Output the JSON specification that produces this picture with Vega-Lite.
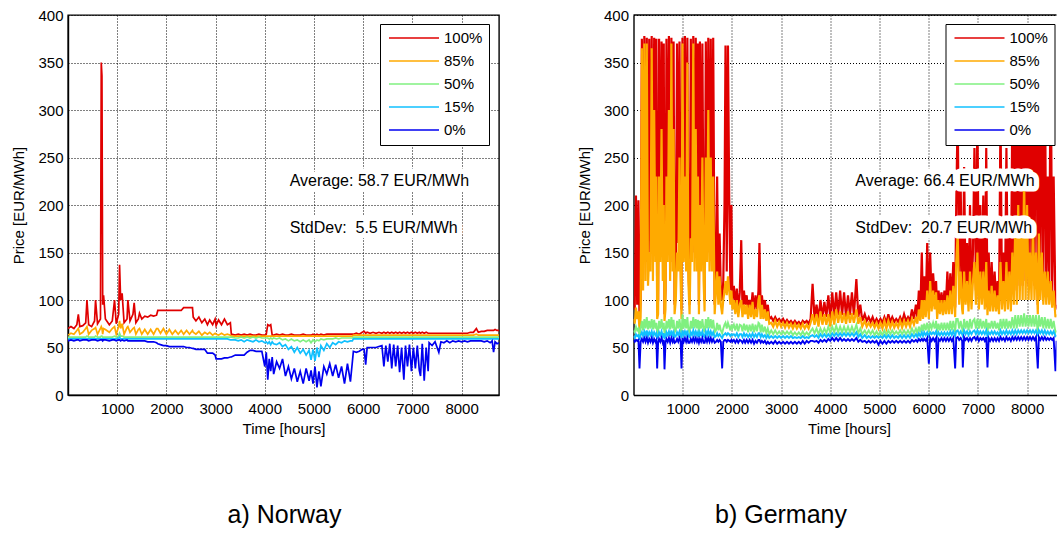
{
"$schema": "https://vega.github.io/schema/vega-lite/v6.json",
"background": "white",
"padding": {"left": 11, "top": 7, "right": 0, "bottom": 0},
"config": {
  "font": "Liberation Sans",
  "view": {"stroke": null},
  "axis": {"labelFont": "Liberation Sans", "labelFontSize": 15, "labelColor": "black", "titleFont": "Liberation Sans", "titleFontSize": 15, "titleFontWeight": "normal", "titleColor": "black", "grid": true, "gridColor": "black", "gridDash": [1, 2], "gridOpacity": 1, "gridWidth": 1, "ticks": false, "domainColor": "black", "domainWidth": 1.4, "format": "d"},
  "axisX": {"labelPadding": 6, "titlePadding": 5, "labelFlush": false},
  "axisY": {"labelPadding": 5, "titlePadding": 11},
  "legend": {"orient": "none", "legendX": 312, "legendY": 9, "padding": 6.5, "strokeColor": "black", "fillColor": "white", "labelFont": "Liberation Sans", "labelFontSize": 15, "labelColor": "black", "rowPadding": 7, "symbolSize": 100, "symbolStrokeWidth": 1.5, "symbolOffset": 20, "labelOffset": 22.5},
  "title": {"font": "Liberation Sans", "fontSize": 25, "fontWeight": "normal", "color": "black"}
},
"bounds": "flush",
"spacing": 134.5,
"resolve": {"scale": {"color": "independent", "x": "independent", "y": "independent"}, "legend": {"color": "independent"}},
"hconcat": [
{
  "width": 431, "height": 380,
  "view": {"stroke": "black", "strokeWidth": 1.4},
  "title": {"text": "a) Norway", "orient": "bottom", "anchor": "middle", "offset": 67, "dx": 1},
  "layer": [
    {"data": {"name": "norway", "values": [
{"h":0,"p100":70,"p85":63,"p50":61,"p15":59,"p0":57},
{"h":60,"p100":72,"p85":65,"p50":61,"p15":59,"p0":58},
{"h":120,"p100":70,"p85":64,"p50":61,"p15":59,"p0":57},
{"h":180,"p100":74,"p85":68,"p50":61,"p15":59,"p0":58},
{"h":210,"p100":85,"p85":70,"p50":61,"p15":59,"p0":58},
{"h":240,"p100":72,"p85":64,"p50":61,"p15":59,"p0":57},
{"h":300,"p100":73,"p85":66,"p50":61,"p15":59,"p0":58},
{"h":360,"p100":76,"p85":70,"p50":61,"p15":59,"p0":58},
{"h":385,"p100":100,"p85":72,"p50":62,"p15":59,"p0":58},
{"h":420,"p100":74,"p85":64,"p50":61,"p15":59,"p0":57},
{"h":480,"p100":72,"p85":68,"p50":61,"p15":59,"p0":58},
{"h":540,"p100":78,"p85":70,"p50":61,"p15":59,"p0":58},
{"h":560,"p100":100,"p85":71,"p50":62,"p15":59,"p0":58},
{"h":600,"p100":75,"p85":64,"p50":61,"p15":59,"p0":57},
{"h":660,"p100":80,"p85":70,"p50":61,"p15":59,"p0":58},
{"h":676,"p100":350,"p85":72,"p50":62,"p15":59,"p0":58},
{"h":690,"p100":336,"p85":70,"p50":62,"p15":59,"p0":58},
{"h":705,"p100":95,"p85":64,"p50":61,"p15":59,"p0":57},
{"h":723,"p100":105,"p85":70,"p50":61,"p15":59,"p0":58},
{"h":760,"p100":80,"p85":69,"p50":61,"p15":59,"p0":58},
{"h":840,"p100":74,"p85":66,"p50":61,"p15":59,"p0":57},
{"h":900,"p100":78,"p85":70,"p50":61,"p15":59,"p0":58},
{"h":946,"p100":100,"p85":72,"p50":62,"p15":59,"p0":58},
{"h":980,"p100":75,"p85":64,"p50":61,"p15":59,"p0":57},
{"h":1030,"p100":85,"p85":72,"p50":62,"p15":60,"p0":58},
{"h":1048,"p100":137,"p85":78,"p50":65,"p15":61,"p0":58},
{"h":1070,"p100":100,"p85":70,"p50":62,"p15":59,"p0":57},
{"h":1100,"p100":107,"p85":75,"p50":62,"p15":59,"p0":58},
{"h":1140,"p100":76,"p85":64,"p50":61,"p15":59,"p0":57},
{"h":1200,"p100":80,"p85":71,"p50":61,"p15":59,"p0":58},
{"h":1217,"p100":100,"p85":72,"p50":61,"p15":59,"p0":57},
{"h":1260,"p100":78,"p85":66,"p50":61,"p15":59,"p0":57},
{"h":1320,"p100":85,"p85":70,"p50":61,"p15":59,"p0":57},
{"h":1345,"p100":97,"p85":71,"p50":61,"p15":59,"p0":57},
{"h":1380,"p100":76,"p85":64,"p50":61,"p15":59,"p0":57},
{"h":1430,"p100":80,"p85":69,"p50":61,"p15":59,"p0":57},
{"h":1453,"p100":86,"p85":70,"p50":61,"p15":59,"p0":57},
{"h":1500,"p100":80,"p85":64,"p50":61,"p15":59,"p0":57},
{"h":1560,"p100":83,"p85":69,"p50":61,"p15":59,"p0":57},
{"h":1620,"p100":82,"p85":64,"p50":61,"p15":59,"p0":56},
{"h":1680,"p100":84,"p85":69,"p50":61,"p15":59,"p0":56},
{"h":1740,"p100":83,"p85":64,"p50":61,"p15":59,"p0":56},
{"h":1800,"p100":84,"p85":70,"p50":61,"p15":59,"p0":55},
{"h":1825,"p100":89,"p85":70,"p50":61,"p15":59,"p0":54},
{"h":1880,"p100":89,"p85":65,"p50":61,"p15":59,"p0":53},
{"h":1940,"p100":89,"p85":70,"p50":61,"p15":59,"p0":52},
{"h":2000,"p100":89,"p85":64,"p50":61,"p15":59,"p0":52},
{"h":2060,"p100":89,"p85":69,"p50":61,"p15":59,"p0":51},
{"h":2120,"p100":89,"p85":64,"p50":61,"p15":59,"p0":51},
{"h":2180,"p100":89,"p85":68,"p50":61,"p15":59,"p0":51},
{"h":2240,"p100":89,"p85":64,"p50":61,"p15":59,"p0":51},
{"h":2300,"p100":89,"p85":68,"p50":61,"p15":59,"p0":51},
{"h":2350,"p100":92,"p85":64,"p50":61,"p15":59,"p0":51},
{"h":2410,"p100":92,"p85":68,"p50":61,"p15":59,"p0":50},
{"h":2470,"p100":92,"p85":64,"p50":61,"p15":59,"p0":50},
{"h":2530,"p100":92,"p85":68,"p50":61,"p15":59,"p0":49},
{"h":2545,"p100":82,"p85":66,"p50":61,"p15":59,"p0":49},
{"h":2600,"p100":78,"p85":64,"p50":61,"p15":59,"p0":48},
{"h":2660,"p100":82,"p85":67,"p50":61,"p15":59,"p0":48},
{"h":2720,"p100":76,"p85":63,"p50":61,"p15":59,"p0":48},
{"h":2780,"p100":80,"p85":66,"p50":61,"p15":59,"p0":48},
{"h":2834,"p100":74,"p85":64,"p50":61,"p15":59,"p0":44},
{"h":2880,"p100":79,"p85":66,"p50":61,"p15":59,"p0":44},
{"h":2940,"p100":74,"p85":63,"p50":61,"p15":59,"p0":44},
{"h":2990,"p100":80,"p85":65,"p50":61,"p15":59,"p0":42},
{"h":3010,"p100":73,"p85":64,"p50":61,"p15":59,"p0":38},
{"h":3060,"p100":79,"p85":63,"p50":61,"p15":59,"p0":38},
{"h":3120,"p100":74,"p85":65,"p50":61,"p15":59,"p0":38},
{"h":3180,"p100":80,"p85":63,"p50":61,"p15":59,"p0":39},
{"h":3240,"p100":74,"p85":64,"p50":61,"p15":59,"p0":39},
{"h":3300,"p100":76,"p85":63,"p50":61,"p15":58,"p0":40},
{"h":3320,"p100":64,"p85":62,"p50":61,"p15":58,"p0":40},
{"h":3400,"p100":63,"p85":62,"p50":60,"p15":58,"p0":42},
{"h":3460,"p100":64,"p85":62,"p50":60,"p15":57,"p0":42},
{"h":3520,"p100":63,"p85":62,"p50":61,"p15":58,"p0":42},
{"h":3580,"p100":64,"p85":62,"p50":60,"p15":56,"p0":42},
{"h":3640,"p100":63,"p85":62,"p50":61,"p15":58,"p0":45},
{"h":3700,"p100":64,"p85":62,"p50":60,"p15":57,"p0":47},
{"h":3760,"p100":63,"p85":62,"p50":61,"p15":56,"p0":47},
{"h":3820,"p100":63,"p85":62,"p50":60,"p15":58,"p0":46},
{"h":3880,"p100":64,"p85":62,"p50":61,"p15":56,"p0":46},
{"h":3940,"p100":63,"p85":62,"p50":60,"p15":57,"p0":46},
{"h":4000,"p100":63,"p85":62,"p50":60,"p15":55,"p0":30},
{"h":4030,"p100":64,"p85":62,"p50":60,"p15":56,"p0":45},
{"h":4060,"p100":74,"p85":62,"p50":60,"p15":54,"p0":16},
{"h":4090,"p100":73,"p85":62,"p50":59,"p15":56,"p0":38},
{"h":4120,"p100":74,"p85":62,"p50":60,"p15":53,"p0":25},
{"h":4150,"p100":63,"p85":62,"p50":59,"p15":56,"p0":40},
{"h":4180,"p100":63,"p85":62,"p50":60,"p15":54,"p0":22},
{"h":4240,"p100":64,"p85":62,"p50":59,"p15":53,"p0":35},
{"h":4300,"p100":63,"p85":62,"p50":60,"p15":55,"p0":28},
{"h":4360,"p100":64,"p85":62,"p50":58,"p15":51,"p0":38},
{"h":4420,"p100":63,"p85":62,"p50":59,"p15":53,"p0":20},
{"h":4480,"p100":63,"p85":62,"p50":57,"p15":48,"p0":30},
{"h":4540,"p100":64,"p85":62,"p50":59,"p15":51,"p0":17},
{"h":4600,"p100":63,"p85":62,"p50":57,"p15":45,"p0":28},
{"h":4660,"p100":63,"p85":62,"p50":58,"p15":50,"p0":14},
{"h":4720,"p100":63,"p85":62,"p50":56,"p15":44,"p0":25},
{"h":4780,"p100":64,"p85":62,"p50":58,"p15":48,"p0":12},
{"h":4840,"p100":63,"p85":62,"p50":56,"p15":42,"p0":28},
{"h":4900,"p100":63,"p85":62,"p50":58,"p15":47,"p0":15},
{"h":4940,"p100":63,"p85":62,"p50":55,"p15":37,"p0":26},
{"h":4980,"p100":64,"p85":62,"p50":58,"p15":48,"p0":12},
{"h":5020,"p100":63,"p85":62,"p50":56,"p15":36,"p0":30},
{"h":5060,"p100":64,"p85":62,"p50":58,"p15":50,"p0":8},
{"h":5100,"p100":63,"p85":62,"p50":57,"p15":40,"p0":25},
{"h":5140,"p100":64,"p85":62,"p50":59,"p15":52,"p0":9},
{"h":5200,"p100":63,"p85":62,"p50":58,"p15":47,"p0":30},
{"h":5260,"p100":64,"p85":62,"p50":59,"p15":54,"p0":22},
{"h":5320,"p100":64,"p85":62,"p50":59,"p15":50,"p0":33},
{"h":5380,"p100":64,"p85":62,"p50":59,"p15":55,"p0":20},
{"h":5440,"p100":64,"p85":62,"p50":60,"p15":53,"p0":32},
{"h":5500,"p100":64,"p85":62,"p50":59,"p15":56,"p0":18},
{"h":5560,"p100":64,"p85":62,"p50":60,"p15":55,"p0":30},
{"h":5620,"p100":64,"p85":62,"p50":60,"p15":57,"p0":12},
{"h":5680,"p100":64,"p85":62,"p50":60,"p15":56,"p0":33},
{"h":5740,"p100":64,"p85":62,"p50":60,"p15":57,"p0":14},
{"h":5780,"p100":64,"p85":62,"p50":60,"p15":57,"p0":35},
{"h":5800,"p100":64,"p85":63,"p50":61,"p15":59,"p0":46},
{"h":5860,"p100":65,"p85":63,"p50":61,"p15":59,"p0":45},
{"h":5920,"p100":64,"p85":63,"p50":61,"p15":59,"p0":46},
{"h":5980,"p100":66,"p85":63,"p50":61,"p15":59,"p0":48},
{"h":6020,"p100":67,"p85":63,"p50":61,"p15":59,"p0":48},
{"h":6050,"p100":65,"p85":63,"p50":61,"p15":59,"p0":32},
{"h":6080,"p100":66,"p85":63,"p50":61,"p15":59,"p0":50},
{"h":6140,"p100":65,"p85":63,"p50":61,"p15":59,"p0":50},
{"h":6200,"p100":66,"p85":63,"p50":61,"p15":59,"p0":50},
{"h":6260,"p100":65,"p85":63,"p50":61,"p15":59,"p0":50},
{"h":6320,"p100":66,"p85":63,"p50":61,"p15":59,"p0":51},
{"h":6380,"p100":65,"p85":63,"p50":61,"p15":59,"p0":52},
{"h":6420,"p100":66,"p85":63,"p50":61,"p15":59,"p0":30},
{"h":6460,"p100":65,"p85":63,"p50":61,"p15":59,"p0":52},
{"h":6500,"p100":66,"p85":63,"p50":61,"p15":59,"p0":35},
{"h":6540,"p100":65,"p85":63,"p50":61,"p15":59,"p0":54},
{"h":6580,"p100":66,"p85":63,"p50":61,"p15":59,"p0":28},
{"h":6620,"p100":65,"p85":63,"p50":61,"p15":59,"p0":53},
{"h":6660,"p100":66,"p85":63,"p50":61,"p15":59,"p0":30},
{"h":6700,"p100":65,"p85":63,"p50":61,"p15":59,"p0":52},
{"h":6740,"p100":66,"p85":63,"p50":61,"p15":59,"p0":24},
{"h":6780,"p100":65,"p85":63,"p50":61,"p15":59,"p0":50},
{"h":6826,"p100":66,"p85":63,"p50":61,"p15":59,"p0":16},
{"h":6860,"p100":65,"p85":63,"p50":61,"p15":59,"p0":52},
{"h":6900,"p100":66,"p85":63,"p50":61,"p15":59,"p0":30},
{"h":6940,"p100":65,"p85":63,"p50":61,"p15":59,"p0":53},
{"h":6980,"p100":66,"p85":63,"p50":61,"p15":59,"p0":25},
{"h":7020,"p100":65,"p85":63,"p50":61,"p15":59,"p0":50},
{"h":7060,"p100":66,"p85":63,"p50":61,"p15":59,"p0":28},
{"h":7100,"p100":65,"p85":63,"p50":61,"p15":59,"p0":52},
{"h":7140,"p100":66,"p85":63,"p50":61,"p15":59,"p0":26},
{"h":7165,"p100":65,"p85":63,"p50":61,"p15":59,"p0":20},
{"h":7200,"p100":66,"p85":63,"p50":61,"p15":59,"p0":54},
{"h":7240,"p100":65,"p85":63,"p50":61,"p15":59,"p0":15},
{"h":7280,"p100":66,"p85":63,"p50":61,"p15":59,"p0":50},
{"h":7320,"p100":65,"p85":63,"p50":61,"p15":59,"p0":25},
{"h":7340,"p100":65,"p85":63,"p50":61,"p15":59,"p0":55},
{"h":7400,"p100":65,"p85":63,"p50":61,"p15":59,"p0":52},
{"h":7460,"p100":65,"p85":63,"p50":61,"p15":59,"p0":56},
{"h":7537,"p100":65,"p85":63,"p50":61,"p15":59,"p0":45},
{"h":7580,"p100":65,"p85":63,"p50":61,"p15":59,"p0":56},
{"h":7640,"p100":65,"p85":63,"p50":61,"p15":59,"p0":55},
{"h":7700,"p100":65,"p85":63,"p50":61,"p15":59,"p0":57},
{"h":7760,"p100":65,"p85":63,"p50":61,"p15":59,"p0":55},
{"h":7820,"p100":65,"p85":63,"p50":61,"p15":59,"p0":57},
{"h":7880,"p100":65,"p85":63,"p50":61,"p15":59,"p0":56},
{"h":7940,"p100":65,"p85":63,"p50":61,"p15":59,"p0":57},
{"h":8000,"p100":65,"p85":63,"p50":61,"p15":59,"p0":56},
{"h":8060,"p100":65,"p85":63,"p50":61,"p15":59,"p0":57},
{"h":8120,"p100":65,"p85":63,"p50":61,"p15":59,"p0":56},
{"h":8180,"p100":66,"p85":63,"p50":61,"p15":59,"p0":57},
{"h":8240,"p100":66,"p85":63,"p50":61,"p15":59,"p0":57},
{"h":8300,"p100":70,"p85":64,"p50":61,"p15":59,"p0":57},
{"h":8340,"p100":66,"p85":63,"p50":61,"p15":59,"p0":57},
{"h":8400,"p100":67,"p85":63,"p50":61,"p15":59,"p0":57},
{"h":8460,"p100":67,"p85":63,"p50":61,"p15":59,"p0":56},
{"h":8520,"p100":68,"p85":63,"p50":61,"p15":59,"p0":57},
{"h":8580,"p100":68,"p85":63,"p50":61,"p15":59,"p0":55},
{"h":8620,"p100":68,"p85":63,"p50":61,"p15":59,"p0":57},
{"h":8650,"p100":68,"p85":63,"p50":61,"p15":59,"p0":45},
{"h":8680,"p100":69,"p85":63,"p50":61,"p15":59,"p0":56},
{"h":8720,"p100":68,"p85":63,"p50":61,"p15":59,"p0":54},
{"h":8760,"p100":68,"p85":63,"p50":61,"p15":59,"p0":55}
    ]},
     "mark": {"type": "line", "strokeWidth": 1.7, "clip": true}, "encoding": {"x": {"field": "h", "type": "quantitative", "scale": {"domain": [0, 8760], "nice": false, "zero": false}, "axis": {"title": "Time [hours]", "values": [1000,2000,3000,4000,5000,6000,7000,8000]}}, "y": {"field": "p100", "type": "quantitative", "scale": {"domain": [0, 400], "nice": false}, "axis": {"title": "Price [EUR/MWh]", "values": [0,50,100,150,200,250,300,350,400]}}, "color": {"datum": "100%", "type": "nominal", "scale": {"domain": ["100%","85%","50%","15%","0%"], "range": ["#e00000","#ffaa00","#80f080","#10c0ff","#0000f0"]}, "legend": {"title": null, "symbolType": "M-5,0H5"}}}},
    {"data": {"name": "norway"}, "mark": {"type": "line", "strokeWidth": 1.7, "clip": true}, "encoding": {"x": {"field": "h", "type": "quantitative", "title": "Time [hours]"}, "y": {"field": "p85", "type": "quantitative", "title": "Price [EUR/MWh]"}, "color": {"datum": "85%", "type": "nominal"}}},
    {"data": {"name": "norway"}, "mark": {"type": "line", "strokeWidth": 1.7, "clip": true}, "encoding": {"x": {"field": "h", "type": "quantitative", "title": "Time [hours]"}, "y": {"field": "p50", "type": "quantitative", "title": "Price [EUR/MWh]"}, "color": {"datum": "50%", "type": "nominal"}}},
    {"data": {"name": "norway"}, "mark": {"type": "line", "strokeWidth": 1.7, "clip": true}, "encoding": {"x": {"field": "h", "type": "quantitative", "title": "Time [hours]"}, "y": {"field": "p15", "type": "quantitative", "title": "Price [EUR/MWh]"}, "color": {"datum": "15%", "type": "nominal"}}},
    {"data": {"name": "norway"}, "mark": {"type": "line", "strokeWidth": 1.7, "clip": true}, "encoding": {"x": {"field": "h", "type": "quantitative", "title": "Time [hours]"}, "y": {"field": "p0", "type": "quantitative", "title": "Price [EUR/MWh]"}, "color": {"datum": "0%", "type": "nominal"}}},
    {"data": {"values": [{"label": "Average: 58.7 EUR/MWh"}]}, "mark": {"type": "text", "align": "left", "baseline": "middle", "fontSize": 16, "font": "Liberation Sans", "fill": "white", "stroke": "white", "strokeWidth": 11, "strokeJoin": "round"}, "encoding": {"x": {"datum": 4506}, "y": {"datum": 225}, "text": {"field": "label", "type": "nominal"}}},
    {"data": {"values": [{"label": "StdDev:\u00a0 5.5 EUR/MWh"}]}, "mark": {"type": "text", "align": "left", "baseline": "middle", "fontSize": 16, "font": "Liberation Sans", "fill": "white", "stroke": "white", "strokeWidth": 11, "strokeJoin": "round"}, "encoding": {"x": {"datum": 4506}, "y": {"datum": 176}, "text": {"field": "label", "type": "nominal"}}},
    {"data": {"values": [{"label": "Average: 58.7 EUR/MWh"}]}, "mark": {"type": "text", "align": "left", "baseline": "middle", "fontSize": 16, "font": "Liberation Sans", "fill": "black"}, "encoding": {"x": {"datum": 4506}, "y": {"datum": 225}, "text": {"field": "label", "type": "nominal"}}},
    {"data": {"values": [{"label": "StdDev:\u00a0 5.5 EUR/MWh"}]}, "mark": {"type": "text", "align": "left", "baseline": "middle", "fontSize": 16, "font": "Liberation Sans", "fill": "black"}, "encoding": {"x": {"datum": 4506}, "y": {"datum": 176}, "text": {"field": "label", "type": "nominal"}}}
  ]
},
{
  "width": 423, "height": 380,
  "title": {"text": "b) Germany", "orient": "bottom", "anchor": "middle", "offset": 67, "dx": -64},
  "layer": [
    {"data": {"name": "germany", "values": [
{"h":0,"p100":100,"p85":80,"p50":68,"p15":62,"p0":58},
{"h":25,"p100":90,"p85":75,"p50":66,"p15":60,"p0":56},
{"h":50,"p100":210,"p85":92,"p50":72,"p15":64,"p0":58},
{"h":75,"p100":95,"p85":80,"p50":68,"p15":62,"p0":57},
{"h":100,"p100":205,"p85":88,"p50":70,"p15":63,"p0":58},
{"h":122,"p100":75,"p85":68,"p50":62,"p15":58,"p0":28},
{"h":145,"p100":100,"p85":82,"p50":70,"p15":63,"p0":56},
{"h":170,"p100":375,"p85":365,"p50":78,"p15":66,"p0":59},
{"h":195,"p100":120,"p85":110,"p50":68,"p15":62,"p0":56},
{"h":220,"p100":378,"p85":370,"p50":80,"p15":67,"p0":60},
{"h":245,"p100":140,"p85":120,"p50":70,"p15":63,"p0":56},
{"h":270,"p100":376,"p85":370,"p50":82,"p15":68,"p0":60},
{"h":295,"p100":130,"p85":115,"p50":69,"p15":62,"p0":55},
{"h":320,"p100":375,"p85":150,"p50":78,"p15":66,"p0":59},
{"h":345,"p100":150,"p85":130,"p50":70,"p15":63,"p0":56},
{"h":370,"p100":378,"p85":365,"p50":80,"p15":67,"p0":60},
{"h":395,"p100":140,"p85":120,"p50":69,"p15":62,"p0":55},
{"h":420,"p100":376,"p85":300,"p50":79,"p15":66,"p0":59},
{"h":445,"p100":160,"p85":140,"p50":70,"p15":63,"p0":56},
{"h":465,"p100":375,"p85":230,"p50":76,"p15":65,"p0":58},
{"h":481,"p100":90,"p85":80,"p50":65,"p15":60,"p0":28},
{"h":500,"p100":100,"p85":85,"p50":66,"p15":61,"p0":55},
{"h":520,"p100":375,"p85":230,"p50":78,"p15":66,"p0":59},
{"h":545,"p100":160,"p85":140,"p50":70,"p15":63,"p0":56},
{"h":570,"p100":372,"p85":280,"p50":80,"p15":67,"p0":60},
{"h":595,"p100":150,"p85":120,"p50":69,"p15":62,"p0":55},
{"h":615,"p100":370,"p85":200,"p50":76,"p15":65,"p0":58},
{"h":630,"p100":85,"p85":78,"p50":64,"p15":60,"p0":27},
{"h":650,"p100":110,"p85":90,"p50":66,"p15":61,"p0":55},
{"h":670,"p100":375,"p85":230,"p50":78,"p15":66,"p0":59},
{"h":695,"p100":160,"p85":140,"p50":70,"p15":63,"p0":56},
{"h":720,"p100":378,"p85":300,"p50":80,"p15":67,"p0":60},
{"h":745,"p100":150,"p85":120,"p50":69,"p15":62,"p0":55},
{"h":770,"p100":376,"p85":370,"p50":82,"p15":68,"p0":60},
{"h":795,"p100":140,"p85":130,"p50":70,"p15":63,"p0":56},
{"h":815,"p100":372,"p85":280,"p50":79,"p15":66,"p0":59},
{"h":835,"p100":95,"p85":85,"p50":66,"p15":61,"p0":55},
{"h":860,"p100":120,"p85":100,"p50":68,"p15":62,"p0":56},
{"h":885,"p100":370,"p85":150,"p50":78,"p15":66,"p0":59},
{"h":910,"p100":160,"p85":130,"p50":70,"p15":63,"p0":56},
{"h":935,"p100":372,"p85":250,"p50":80,"p15":67,"p0":60},
{"h":958,"p100":150,"p85":120,"p50":70,"p15":63,"p0":56},
{"h":976,"p100":90,"p85":80,"p50":64,"p15":60,"p0":28},
{"h":995,"p100":376,"p85":370,"p50":85,"p15":68,"p0":60},
{"h":1020,"p100":150,"p85":140,"p50":70,"p15":63,"p0":56},
{"h":1045,"p100":378,"p85":230,"p50":80,"p15":67,"p0":60},
{"h":1070,"p100":160,"p85":130,"p50":70,"p15":63,"p0":56},
{"h":1095,"p100":376,"p85":350,"p50":82,"p15":68,"p0":60},
{"h":1115,"p100":140,"p85":120,"p50":69,"p15":62,"p0":55},
{"h":1140,"p100":95,"p85":85,"p50":66,"p15":61,"p0":55},
{"h":1165,"p100":375,"p85":165,"p50":78,"p15":66,"p0":59},
{"h":1190,"p100":160,"p85":140,"p50":70,"p15":63,"p0":56},
{"h":1215,"p100":378,"p85":370,"p50":82,"p15":68,"p0":60},
{"h":1240,"p100":150,"p85":130,"p50":70,"p15":63,"p0":56},
{"h":1265,"p100":376,"p85":280,"p50":80,"p15":67,"p0":60},
{"h":1290,"p100":160,"p85":130,"p50":70,"p15":63,"p0":56},
{"h":1310,"p100":370,"p85":230,"p50":79,"p15":66,"p0":59},
{"h":1330,"p100":95,"p85":85,"p50":66,"p15":61,"p0":55},
{"h":1350,"p100":372,"p85":200,"p50":78,"p15":66,"p0":59},
{"h":1375,"p100":150,"p85":130,"p50":70,"p15":63,"p0":56},
{"h":1400,"p100":370,"p85":250,"p50":80,"p15":67,"p0":60},
{"h":1425,"p100":150,"p85":120,"p50":69,"p15":62,"p0":55},
{"h":1445,"p100":100,"p85":88,"p50":66,"p15":61,"p0":55},
{"h":1470,"p100":372,"p85":250,"p50":80,"p15":67,"p0":60},
{"h":1495,"p100":160,"p85":140,"p50":70,"p15":63,"p0":56},
{"h":1520,"p100":376,"p85":300,"p50":82,"p15":68,"p0":60},
{"h":1545,"p100":150,"p85":130,"p50":70,"p15":63,"p0":56},
{"h":1570,"p100":375,"p85":250,"p50":80,"p15":67,"p0":60},
{"h":1595,"p100":160,"p85":130,"p50":70,"p15":63,"p0":56},
{"h":1620,"p100":376,"p85":230,"p50":79,"p15":66,"p0":59},
{"h":1650,"p100":95,"p85":85,"p50":66,"p15":61,"p0":55},
{"h":1675,"p100":120,"p85":110,"p50":68,"p15":62,"p0":56},
{"h":1700,"p100":230,"p85":130,"p50":76,"p15":65,"p0":58},
{"h":1725,"p100":110,"p85":95,"p50":68,"p15":62,"p0":56},
{"h":1750,"p100":170,"p85":125,"p50":74,"p15":64,"p0":58},
{"h":1775,"p100":110,"p85":95,"p50":68,"p15":62,"p0":56},
{"h":1802,"p100":100,"p85":85,"p50":65,"p15":60,"p0":28},
{"h":1825,"p100":120,"p85":100,"p50":70,"p15":63,"p0":56},
{"h":1850,"p100":200,"p85":110,"p50":74,"p15":64,"p0":58},
{"h":1870,"p100":368,"p85":120,"p50":76,"p15":65,"p0":58},
{"h":1895,"p100":130,"p85":105,"p50":70,"p15":63,"p0":56},
{"h":1920,"p100":368,"p85":125,"p50":76,"p15":65,"p0":58},
{"h":1945,"p100":210,"p85":110,"p50":72,"p15":64,"p0":57},
{"h":1970,"p100":110,"p85":95,"p50":68,"p15":62,"p0":56},
{"h":1990,"p100":200,"p85":110,"p50":74,"p15":64,"p0":58},
{"h":2010,"p100":100,"p85":90,"p50":70,"p15":63,"p0":56},
{"h":2040,"p100":115,"p85":100,"p50":74,"p15":64,"p0":58},
{"h":2070,"p100":95,"p85":85,"p50":68,"p15":62,"p0":55},
{"h":2100,"p100":112,"p85":100,"p50":75,"p15":65,"p0":58},
{"h":2130,"p100":90,"p85":82,"p50":67,"p15":61,"p0":55},
{"h":2160,"p100":108,"p85":95,"p50":74,"p15":64,"p0":58},
{"h":2190,"p100":163,"p85":100,"p50":73,"p15":64,"p0":57},
{"h":2215,"p100":90,"p85":82,"p50":67,"p15":61,"p0":55},
{"h":2245,"p100":110,"p85":95,"p50":75,"p15":65,"p0":58},
{"h":2270,"p100":95,"p85":85,"p50":68,"p15":62,"p0":55},
{"h":2300,"p100":105,"p85":95,"p50":74,"p15":64,"p0":58},
{"h":2330,"p100":88,"p85":80,"p50":66,"p15":61,"p0":55},
{"h":2360,"p100":100,"p85":95,"p50":74,"p15":64,"p0":58},
{"h":2390,"p100":90,"p85":82,"p50":67,"p15":61,"p0":55},
{"h":2420,"p100":108,"p85":98,"p50":75,"p15":65,"p0":58},
{"h":2450,"p100":88,"p85":80,"p50":66,"p15":61,"p0":54},
{"h":2480,"p100":105,"p85":90,"p50":74,"p15":64,"p0":57},
{"h":2510,"p100":90,"p85":82,"p50":67,"p15":61,"p0":55},
{"h":2540,"p100":110,"p85":100,"p50":76,"p15":65,"p0":58},
{"h":2560,"p100":160,"p85":105,"p50":75,"p15":65,"p0":58},
{"h":2585,"p100":90,"p85":80,"p50":66,"p15":61,"p0":55},
{"h":2610,"p100":105,"p85":95,"p50":74,"p15":64,"p0":57},
{"h":2640,"p100":88,"p85":80,"p50":66,"p15":61,"p0":55},
{"h":2670,"p100":100,"p85":90,"p50":72,"p15":63,"p0":57},
{"h":2700,"p100":85,"p85":78,"p50":65,"p15":60,"p0":54},
{"h":2730,"p100":95,"p85":88,"p50":70,"p15":63,"p0":56},
{"h":2760,"p100":80,"p85":75,"p50":64,"p15":60,"p0":54},
{"h":2800,"p100":82,"p85":76,"p50":68,"p15":62,"p0":56},
{"h":2840,"p100":78,"p85":72,"p50":64,"p15":60,"p0":54},
{"h":2880,"p100":82,"p85":78,"p50":68,"p15":62,"p0":57},
{"h":2920,"p100":78,"p85":72,"p50":64,"p15":60,"p0":54},
{"h":2960,"p100":80,"p85":77,"p50":67,"p15":62,"p0":56},
{"h":3000,"p100":77,"p85":72,"p50":64,"p15":60,"p0":54},
{"h":3040,"p100":80,"p85":76,"p50":67,"p15":62,"p0":56},
{"h":3080,"p100":76,"p85":71,"p50":64,"p15":60,"p0":54},
{"h":3120,"p100":79,"p85":76,"p50":67,"p15":62,"p0":56},
{"h":3160,"p100":76,"p85":71,"p50":64,"p15":60,"p0":54},
{"h":3200,"p100":78,"p85":75,"p50":67,"p15":62,"p0":56},
{"h":3240,"p100":75,"p85":70,"p50":63,"p15":60,"p0":54},
{"h":3280,"p100":78,"p85":75,"p50":66,"p15":61,"p0":56},
{"h":3320,"p100":75,"p85":70,"p50":63,"p15":60,"p0":54},
{"h":3360,"p100":77,"p85":74,"p50":66,"p15":61,"p0":56},
{"h":3400,"p100":74,"p85":70,"p50":63,"p15":60,"p0":54},
{"h":3440,"p100":78,"p85":75,"p50":67,"p15":62,"p0":57},
{"h":3480,"p100":76,"p85":70,"p50":63,"p15":60,"p0":54},
{"h":3520,"p100":78,"p85":74,"p50":66,"p15":61,"p0":57},
{"h":3560,"p100":75,"p85":70,"p50":63,"p15":60,"p0":55},
{"h":3600,"p100":80,"p85":76,"p50":67,"p15":62,"p0":57},
{"h":3640,"p100":117,"p85":85,"p50":70,"p15":63,"p0":57},
{"h":3680,"p100":80,"p85":74,"p50":65,"p15":61,"p0":56},
{"h":3720,"p100":95,"p85":85,"p50":70,"p15":63,"p0":57},
{"h":3760,"p100":80,"p85":72,"p50":64,"p15":60,"p0":55},
{"h":3800,"p100":100,"p85":88,"p50":70,"p15":64,"p0":58},
{"h":3840,"p100":82,"p85":74,"p50":65,"p15":61,"p0":56},
{"h":3880,"p100":98,"p85":85,"p50":70,"p15":64,"p0":58},
{"h":3920,"p100":82,"p85":74,"p50":65,"p15":61,"p0":56},
{"h":3960,"p100":105,"p85":85,"p50":72,"p15":64,"p0":59},
{"h":4000,"p100":80,"p85":72,"p50":65,"p15":61,"p0":57},
{"h":4040,"p100":108,"p85":88,"p50":72,"p15":65,"p0":60},
{"h":4080,"p100":82,"p85":74,"p50":66,"p15":62,"p0":57},
{"h":4120,"p100":108,"p85":90,"p50":73,"p15":65,"p0":60},
{"h":4160,"p100":84,"p85":76,"p50":66,"p15":62,"p0":57},
{"h":4200,"p100":110,"p85":88,"p50":72,"p15":65,"p0":60},
{"h":4240,"p100":84,"p85":76,"p50":66,"p15":62,"p0":57},
{"h":4280,"p100":108,"p85":86,"p50":72,"p15":65,"p0":59},
{"h":4320,"p100":82,"p85":75,"p50":66,"p15":62,"p0":57},
{"h":4360,"p100":105,"p85":88,"p50":72,"p15":65,"p0":59},
{"h":4400,"p100":84,"p85":76,"p50":66,"p15":62,"p0":57},
{"h":4440,"p100":108,"p85":86,"p50":72,"p15":65,"p0":59},
{"h":4480,"p100":84,"p85":76,"p50":66,"p15":62,"p0":57},
{"h":4530,"p100":122,"p85":90,"p50":74,"p15":66,"p0":60},
{"h":4570,"p100":82,"p85":75,"p50":65,"p15":61,"p0":56},
{"h":4610,"p100":95,"p85":82,"p50":70,"p15":64,"p0":58},
{"h":4650,"p100":78,"p85":72,"p50":64,"p15":60,"p0":56},
{"h":4700,"p100":85,"p85":78,"p50":68,"p15":63,"p0":57},
{"h":4740,"p100":78,"p85":72,"p50":64,"p15":60,"p0":55},
{"h":4780,"p100":82,"p85":76,"p50":68,"p15":62,"p0":57},
{"h":4820,"p100":77,"p85":72,"p50":64,"p15":60,"p0":55},
{"h":4860,"p100":82,"p85":76,"p50":68,"p15":62,"p0":57},
{"h":4900,"p100":76,"p85":71,"p50":63,"p15":60,"p0":55},
{"h":4940,"p100":80,"p85":76,"p50":67,"p15":62,"p0":57},
{"h":4980,"p100":76,"p85":70,"p50":63,"p15":60,"p0":53},
{"h":5020,"p100":80,"p85":76,"p50":67,"p15":62,"p0":57},
{"h":5060,"p100":76,"p85":70,"p50":63,"p15":60,"p0":54},
{"h":5100,"p100":82,"p85":78,"p50":68,"p15":63,"p0":57},
{"h":5140,"p100":76,"p85":70,"p50":63,"p15":60,"p0":54},
{"h":5180,"p100":85,"p85":78,"p50":68,"p15":63,"p0":57},
{"h":5220,"p100":77,"p85":71,"p50":64,"p15":60,"p0":55},
{"h":5260,"p100":82,"p85":77,"p50":68,"p15":63,"p0":57},
{"h":5300,"p100":77,"p85":71,"p50":64,"p15":60,"p0":55},
{"h":5340,"p100":80,"p85":76,"p50":67,"p15":62,"p0":57},
{"h":5380,"p100":77,"p85":71,"p50":64,"p15":60,"p0":55},
{"h":5420,"p100":82,"p85":78,"p50":68,"p15":63,"p0":57},
{"h":5460,"p100":77,"p85":71,"p50":64,"p15":60,"p0":55},
{"h":5500,"p100":85,"p85":78,"p50":68,"p15":63,"p0":57},
{"h":5540,"p100":78,"p85":72,"p50":64,"p15":60,"p0":55},
{"h":5580,"p100":82,"p85":78,"p50":68,"p15":63,"p0":57},
{"h":5620,"p100":78,"p85":72,"p50":64,"p15":60,"p0":55},
{"h":5660,"p100":90,"p85":80,"p50":70,"p15":64,"p0":58},
{"h":5700,"p100":80,"p85":74,"p50":65,"p15":61,"p0":56},
{"h":5740,"p100":95,"p85":82,"p50":70,"p15":64,"p0":58},
{"h":5770,"p100":82,"p85":75,"p50":65,"p15":61,"p0":56},
{"h":5800,"p100":110,"p85":90,"p50":72,"p15":65,"p0":59},
{"h":5830,"p100":85,"p85":78,"p50":66,"p15":62,"p0":57},
{"h":5860,"p100":150,"p85":100,"p50":74,"p15":66,"p0":59},
{"h":5885,"p100":90,"p85":80,"p50":67,"p15":62,"p0":57},
{"h":5910,"p100":125,"p85":100,"p50":75,"p15":66,"p0":59},
{"h":5940,"p100":92,"p85":82,"p50":68,"p15":63,"p0":57},
{"h":5970,"p100":160,"p85":110,"p50":76,"p15":66,"p0":60},
{"h":6003,"p100":90,"p85":80,"p50":66,"p15":62,"p0":33},
{"h":6030,"p100":150,"p85":120,"p50":76,"p15":66,"p0":60},
{"h":6060,"p100":100,"p85":88,"p50":70,"p15":64,"p0":57},
{"h":6090,"p100":128,"p85":110,"p50":76,"p15":66,"p0":60},
{"h":6120,"p100":105,"p85":90,"p50":70,"p15":64,"p0":57},
{"h":6150,"p100":120,"p85":108,"p50":78,"p15":67,"p0":60},
{"h":6172,"p100":90,"p85":80,"p50":66,"p15":62,"p0":28},
{"h":6200,"p100":110,"p85":100,"p50":75,"p15":66,"p0":59},
{"h":6230,"p100":95,"p85":85,"p50":68,"p15":63,"p0":57},
{"h":6260,"p100":108,"p85":100,"p50":76,"p15":66,"p0":60},
{"h":6290,"p100":92,"p85":84,"p50":68,"p15":63,"p0":57},
{"h":6320,"p100":110,"p85":100,"p50":76,"p15":66,"p0":60},
{"h":6350,"p100":95,"p85":85,"p50":68,"p15":63,"p0":57},
{"h":6380,"p100":130,"p85":105,"p50":76,"p15":66,"p0":60},
{"h":6410,"p100":95,"p85":85,"p50":68,"p15":63,"p0":57},
{"h":6440,"p100":128,"p85":110,"p50":78,"p15":67,"p0":60},
{"h":6470,"p100":95,"p85":85,"p50":68,"p15":63,"p0":57},
{"h":6500,"p100":140,"p85":115,"p50":78,"p15":67,"p0":60},
{"h":6538,"p100":92,"p85":82,"p50":66,"p15":62,"p0":28},
{"h":6560,"p100":200,"p85":140,"p50":80,"p15":67,"p0":60},
{"h":6590,"p100":300,"p85":170,"p50":80,"p15":68,"p0":61},
{"h":6620,"p100":110,"p85":95,"p50":70,"p15":64,"p0":58},
{"h":6650,"p100":220,"p85":130,"p50":78,"p15":67,"p0":60},
{"h":6680,"p100":105,"p85":90,"p50":70,"p15":64,"p0":57},
{"h":6694,"p100":95,"p85":85,"p50":66,"p15":62,"p0":29},
{"h":6720,"p100":240,"p85":130,"p50":80,"p15":68,"p0":61},
{"h":6750,"p100":110,"p85":95,"p50":70,"p15":64,"p0":58},
{"h":6780,"p100":160,"p85":120,"p50":78,"p15":67,"p0":60},
{"h":6810,"p100":100,"p85":88,"p50":68,"p15":63,"p0":57},
{"h":6840,"p100":200,"p85":130,"p50":80,"p15":67,"p0":60},
{"h":6870,"p100":105,"p85":90,"p50":70,"p15":64,"p0":57},
{"h":6900,"p100":150,"p85":120,"p50":78,"p15":67,"p0":60},
{"h":6930,"p100":260,"p85":140,"p50":80,"p15":68,"p0":61},
{"h":6960,"p100":110,"p85":95,"p50":70,"p15":64,"p0":58},
{"h":6990,"p100":300,"p85":150,"p50":80,"p15":68,"p0":61},
{"h":7020,"p100":100,"p85":90,"p50":70,"p15":64,"p0":57},
{"h":7050,"p100":200,"p85":130,"p50":80,"p15":67,"p0":60},
{"h":7080,"p100":110,"p85":95,"p50":70,"p15":64,"p0":58},
{"h":7110,"p100":210,"p85":130,"p50":78,"p15":67,"p0":60},
{"h":7140,"p100":105,"p85":90,"p50":70,"p15":64,"p0":57},
{"h":7170,"p100":260,"p85":140,"p50":80,"p15":68,"p0":61},
{"h":7195,"p100":92,"p85":84,"p50":66,"p15":62,"p0":29},
{"h":7220,"p100":150,"p85":110,"p50":76,"p15":66,"p0":60},
{"h":7250,"p100":100,"p85":88,"p50":70,"p15":64,"p0":57},
{"h":7280,"p100":140,"p85":115,"p50":78,"p15":67,"p0":60},
{"h":7310,"p100":100,"p85":88,"p50":70,"p15":64,"p0":57},
{"h":7340,"p100":130,"p85":110,"p50":78,"p15":67,"p0":60},
{"h":7370,"p100":100,"p85":88,"p50":70,"p15":64,"p0":57},
{"h":7400,"p100":120,"p85":105,"p50":76,"p15":66,"p0":60},
{"h":7430,"p100":95,"p85":85,"p50":68,"p15":63,"p0":57},
{"h":7460,"p100":300,"p85":140,"p50":80,"p15":68,"p0":61},
{"h":7490,"p100":100,"p85":90,"p50":70,"p15":64,"p0":58},
{"h":7520,"p100":150,"p85":120,"p50":80,"p15":67,"p0":60},
{"h":7550,"p100":100,"p85":88,"p50":70,"p15":64,"p0":57},
{"h":7580,"p100":260,"p85":140,"p50":80,"p15":68,"p0":61},
{"h":7610,"p100":105,"p85":90,"p50":70,"p15":64,"p0":58},
{"h":7640,"p100":180,"p85":130,"p50":78,"p15":67,"p0":60},
{"h":7670,"p100":100,"p85":88,"p50":70,"p15":64,"p0":57},
{"h":7700,"p100":300,"p85":150,"p50":82,"p15":68,"p0":61},
{"h":7730,"p100":110,"p85":95,"p50":70,"p15":64,"p0":58},
{"h":7760,"p100":375,"p85":180,"p50":84,"p15":68,"p0":61},
{"h":7790,"p100":110,"p85":95,"p50":70,"p15":64,"p0":58},
{"h":7820,"p100":375,"p85":200,"p50":84,"p15":68,"p0":61},
{"h":7850,"p100":115,"p85":100,"p50":72,"p15":65,"p0":58},
{"h":7880,"p100":375,"p85":180,"p50":84,"p15":68,"p0":61},
{"h":7910,"p100":115,"p85":100,"p50":72,"p15":65,"p0":58},
{"h":7940,"p100":375,"p85":230,"p50":86,"p15":68,"p0":61},
{"h":7970,"p100":120,"p85":100,"p50":72,"p15":65,"p0":58},
{"h":8000,"p100":375,"p85":200,"p50":84,"p15":68,"p0":61},
{"h":8030,"p100":115,"p85":100,"p50":72,"p15":65,"p0":58},
{"h":8060,"p100":375,"p85":150,"p50":84,"p15":68,"p0":61},
{"h":8090,"p100":120,"p85":100,"p50":72,"p15":65,"p0":58},
{"h":8120,"p100":375,"p85":180,"p50":84,"p15":68,"p0":61},
{"h":8150,"p100":115,"p85":100,"p50":72,"p15":65,"p0":58},
{"h":8180,"p100":375,"p85":150,"p50":84,"p15":68,"p0":61},
{"h":8218,"p100":95,"p85":85,"p50":66,"p15":62,"p0":28},
{"h":8240,"p100":375,"p85":170,"p50":84,"p15":68,"p0":61},
{"h":8270,"p100":115,"p85":100,"p50":72,"p15":65,"p0":58},
{"h":8300,"p100":375,"p85":150,"p50":82,"p15":68,"p0":61},
{"h":8330,"p100":110,"p85":95,"p50":70,"p15":64,"p0":58},
{"h":8360,"p100":375,"p85":130,"p50":82,"p15":68,"p0":61},
{"h":8390,"p100":110,"p85":95,"p50":70,"p15":64,"p0":58},
{"h":8420,"p100":230,"p85":130,"p50":80,"p15":67,"p0":60},
{"h":8450,"p100":110,"p85":95,"p50":70,"p15":64,"p0":58},
{"h":8480,"p100":375,"p85":120,"p50":80,"p15":67,"p0":60},
{"h":8510,"p100":105,"p85":92,"p50":70,"p15":64,"p0":58},
{"h":8540,"p100":230,"p85":110,"p50":78,"p15":67,"p0":60},
{"h":8577,"p100":90,"p85":82,"p50":66,"p15":62,"p0":25},
{"h":8600,"p100":95,"p85":85,"p50":68,"p15":63,"p0":57}
    ]},
     "mark": {"type": "line", "strokeWidth": 2.2, "clip": true}, "encoding": {"x": {"field": "h", "type": "quantitative", "scale": {"domain": [0, 8598], "nice": false, "zero": false}, "axis": {"title": "Time [hours]", "titleX": 215.5, "values": [1000,2000,3000,4000,5000,6000,7000,8000]}}, "y": {"field": "p100", "type": "quantitative", "scale": {"domain": [0, 400], "nice": false}, "axis": {"title": "Price [EUR/MWh]", "values": [0,50,100,150,200,250,300,350,400]}}, "color": {"datum": "100%", "type": "nominal", "scale": {"domain": ["100%","85%","50%","15%","0%"], "range": ["#e00000","#ffaa00","#80f080","#10c0ff","#0000f0"]}, "legend": {"title": null, "symbolType": "M-5,0H5"}}}},
    {"data": {"name": "germany"}, "mark": {"type": "line", "strokeWidth": 2.2, "clip": true}, "encoding": {"x": {"field": "h", "type": "quantitative", "title": "Time [hours]"}, "y": {"field": "p85", "type": "quantitative", "title": "Price [EUR/MWh]"}, "color": {"datum": "85%", "type": "nominal"}}},
    {"data": {"name": "germany"}, "mark": {"type": "line", "strokeWidth": 1.9, "clip": true}, "encoding": {"x": {"field": "h", "type": "quantitative", "title": "Time [hours]"}, "y": {"field": "p50", "type": "quantitative", "title": "Price [EUR/MWh]"}, "color": {"datum": "50%", "type": "nominal"}}},
    {"data": {"name": "germany"}, "mark": {"type": "line", "strokeWidth": 1.9, "clip": true}, "encoding": {"x": {"field": "h", "type": "quantitative", "title": "Time [hours]"}, "y": {"field": "p15", "type": "quantitative", "title": "Price [EUR/MWh]"}, "color": {"datum": "15%", "type": "nominal"}}},
    {"data": {"name": "germany"}, "mark": {"type": "line", "strokeWidth": 1.9, "clip": true}, "encoding": {"x": {"field": "h", "type": "quantitative", "title": "Time [hours]"}, "y": {"field": "p0", "type": "quantitative", "title": "Price [EUR/MWh]"}, "color": {"datum": "0%", "type": "nominal"}}},
    {"data": {"values": [{"label": "Average: 66.4 EUR/MWh"}]}, "mark": {"type": "text", "align": "left", "baseline": "middle", "fontSize": 16, "font": "Liberation Sans", "fill": "white", "stroke": "white", "strokeWidth": 11, "strokeJoin": "round"}, "encoding": {"x": {"datum": 4508}, "y": {"datum": 225}, "text": {"field": "label", "type": "nominal"}}},
    {"data": {"values": [{"label": "StdDev:\u00a0 20.7 EUR/MWh"}]}, "mark": {"type": "text", "align": "left", "baseline": "middle", "fontSize": 16, "font": "Liberation Sans", "fill": "white", "stroke": "white", "strokeWidth": 11, "strokeJoin": "round"}, "encoding": {"x": {"datum": 4508}, "y": {"datum": 176}, "text": {"field": "label", "type": "nominal"}}},
    {"data": {"values": [{"label": "Average: 66.4 EUR/MWh"}]}, "mark": {"type": "text", "align": "left", "baseline": "middle", "fontSize": 16, "font": "Liberation Sans", "fill": "black"}, "encoding": {"x": {"datum": 4508}, "y": {"datum": 225}, "text": {"field": "label", "type": "nominal"}}},
    {"data": {"values": [{"label": "StdDev:\u00a0 20.7 EUR/MWh"}]}, "mark": {"type": "text", "align": "left", "baseline": "middle", "fontSize": 16, "font": "Liberation Sans", "fill": "black"}, "encoding": {"x": {"datum": 4508}, "y": {"datum": 176}, "text": {"field": "label", "type": "nominal"}}},
    {"data": {"values": [{"edge": "top"}]}, "mark": {"type": "rule", "color": "black", "strokeWidth": 1.4}, "encoding": {"y": {"datum": 400}}}
  ]
}
]
}
